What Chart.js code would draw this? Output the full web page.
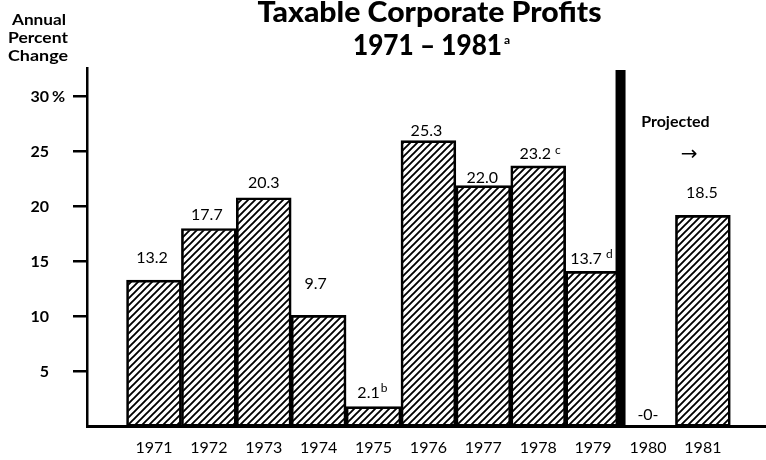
<!DOCTYPE html>
<html>
<head>
<meta charset="utf-8">
<script src="https://cdn.jsdelivr.net/npm/chart.js@4.4.0/dist/chart.umd.min.js"></script>
<style>
  html, body { margin: 0; padding: 0; background: #fff; }
  #wrap { width: 766px; height: 460px; }
</style>
</head>
<body>
<div id="wrap"><canvas id="profitsChart" width="766" height="460"></canvas></div>
<script>
// Data
const years = [1971, 1972, 1973, 1974, 1975, 1976, 1977, 1978, 1979, 1980, 1981];
const barHeights = [13.3, 18.0, 20.8, 10.1, 1.8, 26.0, 21.9, 23.7, 14.1, 0, 19.2];
const valueLabels = ['13.2', '17.7', '20.3', '9.7', '2.1', '25.3', '22.0', '23.2', '13.7', '-0-', '18.5'];
const footnotes = ['', '', '', '', 'b', '', '', 'c', 'd', '', ''];
const yTicks = [5, 10, 15, 20, 25, 30];
const lastActualYear = 1979;

Chart.defaults.font.family = 'Lato';
Chart.defaults.color = '#000';

const canvas = document.getElementById('profitsChart');
const ctx = canvas.getContext('2d');

// diagonal "/" hatch fill
function makeHatch() {
    const s = 7;
    const c = document.createElement('canvas');
    c.width = s;
    c.height = s;
    const g = c.getContext('2d');
    g.strokeStyle = '#000';
    g.lineWidth = 1.9;
    g.beginPath();
    g.moveTo(0, s); g.lineTo(s, 0);
    g.moveTo(-1, 1); g.lineTo(1, -1);
    g.moveTo(s - 1, s + 1); g.lineTo(s + 1, s - 1);
    g.stroke();
    return ctx.createPattern(c, 'repeat');
}

// placement of each value label: px above the bar top, px sideways
const labelLift = [22, 14, 15, 32, 14, 10, 8, 12, 13, 12, 22];
const labelShift = [-2, -2, 0, -3, -5, -2, -1, -3, -7, 0, -1];

function fitText(c, text, cx, baseline, width) {
    const w = c.measureText(text).width;
    c.save();
    c.translate(cx, baseline);
    c.scale(width / w, 1);
    c.textAlign = 'center';
    c.fillText(text, 0, 0);
    c.restore();
}

const annotations = {
    id: 'annotations',
    afterDatasetsDraw(chart) {
        const c = chart.ctx;
        const x = chart.scales.x;
        const y = chart.scales.y;
        const area = chart.chartArea;
        const mid = (area.left + area.right) / 2;
        c.save();
        c.fillStyle = '#000';
        c.textBaseline = 'alphabetic';

        // title
        c.font = '900 28px Lato';
        fitText(c, 'Taxable Corporate Profits', mid + 3, 22, 344);
        fitText(c, '1971 \u2013 1981', mid + 1, 55, 149);
        c.font = 'bold 12px Lato';
        c.textAlign = 'left';
        c.fillText('a', 504, 44);

        // y axis title
        c.font = 'bold 15px Lato';
        fitText(c, 'Annual', 39, 25, 54);
        fitText(c, 'Percent', 38, 43, 60);
        fitText(c, 'Change', 38, 61, 60);

        // percent sign on the top tick
        c.font = 'bold 16px Lato';
        c.textAlign = 'left';
        c.textBaseline = 'middle';
        c.fillText('%', 52, y.getPixelForValue(yTicks[yTicks.length - 1]));

        // value labels
        c.font = '16px Lato';
        years.forEach((yr, i) => {
            const px = x.getPixelForValue(yr) + labelShift[i];
            const py = y.getPixelForValue(barHeights[i]) - labelLift[i];
            c.textAlign = 'center';
            c.fillText(valueLabels[i], px, py);
            if (footnotes[i]) {
                const w = c.measureText(valueLabels[i]).width;
                c.font = '12px Lato';
                c.textAlign = 'left';
                c.fillText(footnotes[i], px + w / 2 + (footnotes[i] === 'b' ? 1 : 4), py - 4);
                c.font = '16px Lato';
            }
        });

        // divider between actual and projected
        const dx = x.getPixelForValue(lastActualYear + 0.5);
        c.fillRect(dx - 5, 70, 10, area.bottom - 70);

        c.font = 'bold 16px Lato';
        c.textAlign = 'center';
        c.fillText('Projected', x.getPixelForValue(1980.5), y.getPixelForValue(27.7));
        c.font = '20px "DejaVu Sans"';
        c.fillText('\u2192', x.getPixelForValue(1980.75), y.getPixelForValue(24.7));
        c.restore();
    }
};

new Chart(ctx, {
    type: 'bar',
    data: {
        datasets: [{
            data: years.map((yr, i) => ({ x: yr, y: barHeights[i] })),
            backgroundColor: makeHatch(),
            borderColor: '#000',
            borderWidth: 2,
            borderSkipped: false,
            barPercentage: 1,
            categoryPercentage: 1,
        }],
    },
    options: {
        responsive: false,
        animation: false,
        layout: { padding: { top: 68, left: 0, right: 0, bottom: 0 } },
        plugins: {
            legend: { display: false },
            tooltip: { enabled: false },
            title: { display: false },
        },
        scales: {
            x: {
                type: 'linear',
                offset: false,
                min: 1969.78,
                max: 1982.15,
                grid: { display: false, drawTicks: false },
                border: { display: true, color: '#000', width: 3 },
                afterBuildTicks: scale => {
                    scale.ticks = years.map(v => ({ value: v }));
                },
                afterFit: scale => { scale.height = 31; },
                ticks: {
                    autoSkip: false,
                    maxRotation: 0,
                    padding: 12,
                    font: { size: 16 },
                    callback: v => String(v),
                },
            },
            y: {
                min: 0,
                max: 32.6,
                grid: {
                    drawOnChartArea: false,
                    drawTicks: true,
                    tickLength: 14,
                    color: '#000',
                    lineWidth: 2.5,
                },
                border: { display: true, color: '#000', width: 2.5 },
                afterBuildTicks: scale => {
                    scale.ticks = yTicks.map(v => ({ value: v }));
                },
                afterFit: scale => { scale.width = 87; },
                ticks: {
                    padding: 24,
                    font: { size: 16, weight: 'bold' },
                    callback: v => String(v),
                },
            },
        },
    },
    plugins: [annotations],
});
</script>
</body>
</html>
